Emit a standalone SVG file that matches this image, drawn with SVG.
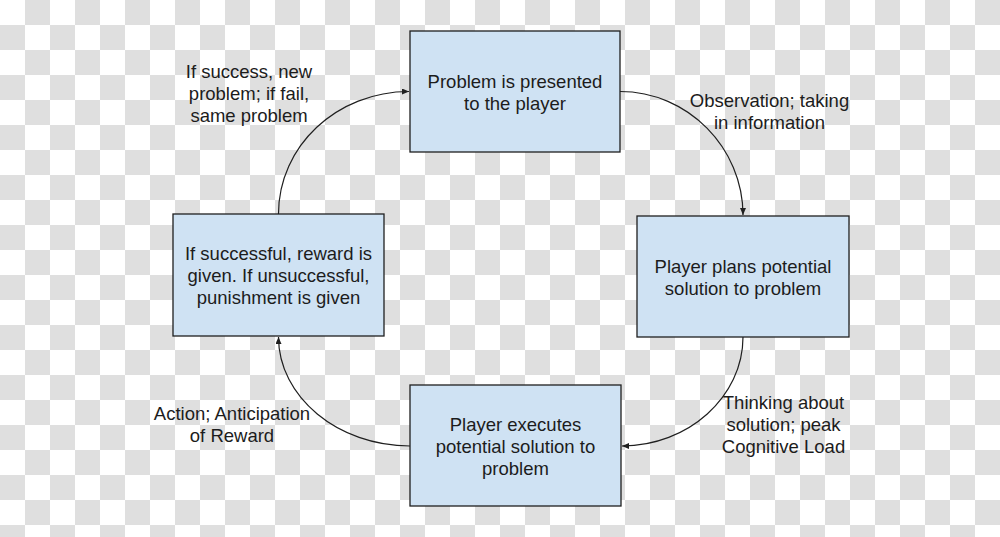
<svg xmlns="http://www.w3.org/2000/svg" width="1000" height="537" viewBox="0 0 1000 537">
<style>
.box{fill:#cfe2f3;stroke:#1f1f1f;stroke-width:1.3}
.t{font-family:"Liberation Sans",Arial,sans-serif;font-size:18.5px;fill:#1c1c1c;text-anchor:middle}
.c{fill:none;stroke:#1f1f1f;stroke-width:1.2}
</style>
<defs>
<pattern id="chk" patternUnits="userSpaceOnUse" width="50" height="50">
<rect width="50" height="50" fill="#ffffff"/>
<rect x="25" y="0" width="25" height="25" fill="#dfdfdf"/>
<rect x="0" y="25" width="25" height="25" fill="#dfdfdf"/>
</pattern>
<marker id="arr" markerUnits="userSpaceOnUse" markerWidth="8" markerHeight="6" refX="7" refY="3" orient="auto">
<path d="M0,0 L7,3 L0,6 z" fill="#1f1f1f"/>
</marker>
</defs>
<rect width="1000" height="537" fill="url(#chk)"/>
<g id="connectors">
<path class="c" d="M278.5,214 C278.5,146 337,91.5 409,91.5" marker-end="url(#arr)"/>
<path class="c" d="M620,91.5 C688,91.5 743,148 743,215" marker-end="url(#arr)"/>
<path class="c" d="M743,337 C743,397 688,446 622,446" marker-end="url(#arr)"/>
<path class="c" d="M410,446 C338,446 278.5,397 278.5,337" marker-end="url(#arr)"/>
</g>
<g id="node-problem">
<rect class="box" x="410" y="31" width="210" height="121"/>
<text class="t" x="515" y="88">Problem is presented</text>
<text class="t" x="515" y="110">to the player</text>
</g>
<g id="node-plans">
<rect class="box" x="637" y="216" width="212" height="121"/>
<text class="t" x="743" y="273">Player plans potential</text>
<text class="t" x="743" y="295">solution to problem</text>
</g>
<g id="node-executes">
<rect class="box" x="410" y="385" width="211" height="121"/>
<text class="t" x="515.5" y="431">Player executes</text>
<text class="t" x="515.5" y="453">potential solution to</text>
<text class="t" x="515.5" y="475">problem</text>
</g>
<g id="node-reward">
<rect class="box" x="173" y="214" width="211" height="122"/>
<text class="t" x="278.5" y="260">If successful, reward is</text>
<text class="t" x="278.5" y="282">given. If unsuccessful,</text>
<text class="t" x="278.5" y="304">punishment is given</text>
</g>
<g id="labels">
<text class="t" x="249" y="78">If success, new</text>
<text class="t" x="249" y="100">problem; if fail,</text>
<text class="t" x="249" y="122">same problem</text>
<text class="t" x="769.5" y="107">Observation; taking</text>
<text class="t" x="769.5" y="129">in information</text>
<text class="t" x="783.5" y="409">Thinking about</text>
<text class="t" x="783.5" y="431">solution; peak</text>
<text class="t" x="783.5" y="453">Cognitive Load</text>
<text class="t" x="232" y="420">Action; Anticipation</text>
<text class="t" x="232" y="442">of Reward</text>
</g>
</svg>
